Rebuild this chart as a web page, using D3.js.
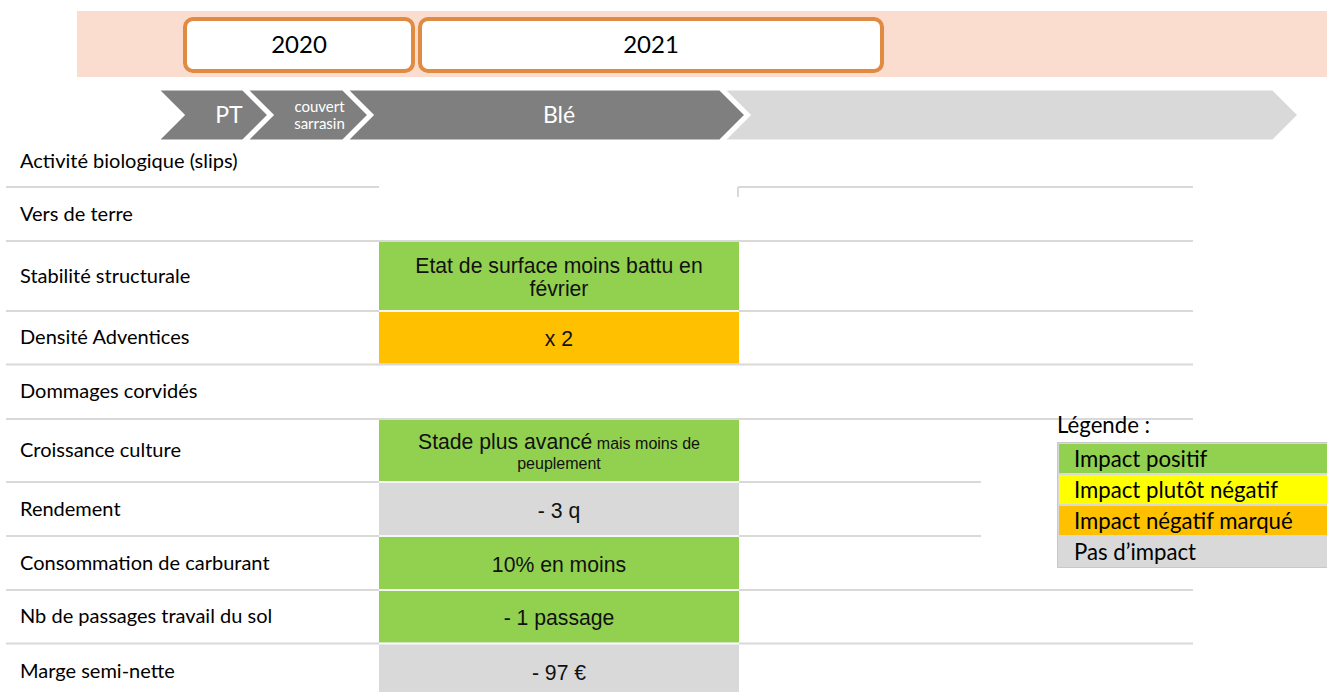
<!DOCTYPE html>
<html lang="fr">
<head>
<meta charset="utf-8">
<script src="https://cdn.jsdelivr.net/npm/d3@7"></script>
<style>
	html, body { margin: 0; padding: 0; background: #fff; }
	svg { display: block; }
</style>
</head>
<body>
<div class="svg-container"></div>
<script>
// --- data ---
const years = ['2020', '2021'];
const stages = ['PT', 'couvert sarrasin', 'Blé', ''];
const indicators = [
	'Activité biologique (slips)',
	'Vers de terre',
	'Stabilité structurale',
	'Densité Adventices',
	'Dommages corvidés',
	'Croissance culture',
	'Rendement',
	'Consommation de carburant',
	'Nb de passages travail du sol',
	'Marge semi-nette',
];
// impact class for each indicator (null = no observation)
const impacts = [null, null, 'positif', 'marque', null, 'positif', 'aucun', 'positif', 'positif', 'aucun'];
// cell texts: lines, each line made of [text, small?] pieces
const cellTexts = [
	null,
	null,
	[[['Etat de surface moins battu en', false]], [['février', false]]],
	[[['x 2', false]]],
	null,
	[[['Stade plus avancé', false], [' mais moins de', true]], [['peuplement', true]]],
	[[['- 3 q', false]]],
	[[['10% en moins', false]]],
	[[['- 1 passage', false]]],
	[[['- 97 €', false]]],
];
const legendKeys = ['positif', 'plutot', 'marque', 'aucun'];
const legendLabels = ['Impact positif', 'Impact plutôt négatif', 'Impact négatif marqué', 'Pas d’impact'];
const legendColors = ['#92d050', '#ffff00', '#ffc000', '#d9d9d9'];

// --- layout ---
const w = 1327;
const h = 692;
const calibri = "Lato, Carlito, Calibri, sans-serif";
const arial = "Arial, 'Liberation Sans', sans-serif";
const lineColor = '#d9d9d9';

const rowHeights = [52, 54, 70, 53.5, 54.5, 63, 54, 54, 53.5, 56];
const tableTop = 135;
const labelX = 20;
const lineX0 = 6;
const lineX1 = 1193;
const cellX0 = 379;
const cellX1 = 739;

const svg = d3
	.select('.svg-container')
	.append('svg')
	.attr('width', w)
	.attr('height', h)
	.attr('viewBox', `0 0 ${w} ${h}`);

const color = d3.scaleOrdinal().domain(legendKeys).range(legendColors);

// row tops from cumulative heights
const rowTops = [tableTop, ...d3.cumsum(rowHeights).map(v => tableTop + v)];
const yTop = d3.scaleOrdinal().domain(indicators).range(rowTops.slice(0, -1));
const rowH = d3.scaleOrdinal().domain(indicators).range(rowHeights);

// --- header : years ---
svg
	.append('rect')
	.attr('x', 77)
	.attr('y', 11)
	.attr('width', w - 77)
	.attr('height', 66)
	.attr('fill', '#fbddd0');

const yearX = d3.scaleOrdinal().domain(years).range([[183, 415], [418, 884]]);

const yearBox = svg
	.selectAll('g.year')
	.data(years)
	.enter()
	.append('g')
	.attr('class', 'year');

yearBox
	.append('rect')
	.attr('x', d => yearX(d)[0] + 2)
	.attr('y', 19)
	.attr('width', d => yearX(d)[1] - yearX(d)[0] - 4)
	.attr('height', 52)
	.attr('rx', 8)
	.attr('fill', '#fff')
	.attr('stroke', '#e08a42')
	.attr('stroke-width', 4);

yearBox
	.append('text')
	.attr('x', d => (yearX(d)[0] + yearX(d)[1]) / 2)
	.attr('y', 53)
	.attr('text-anchor', 'middle')
	.style('font-family', calibri)
	.style('font-size', '24px')
	.attr('fill', '#000')
	.text(d => d);

// --- crop chevrons ---
const stageX = d3.scaleOrdinal().domain(stages).range([[157, 243], [246, 343], [346, 720], [723, 1273]]);
const chevTop = 89;
const chevBot = 141;
const chevMid = (chevTop + chevBot) / 2;
const depth = 26;

const chevron = svg
	.selectAll('g.stage')
	.data(stages)
	.enter()
	.append('g')
	.attr('class', 'stage');

chevron
	.append('path')
	.attr('d', d => {
		const [L, R] = stageX(d);
		return `M${L},${chevTop}L${R},${chevTop}L${R + depth},${chevMid}L${R},${chevBot}L${L},${chevBot}L${L + depth},${chevMid}Z`;
	})
	.attr('fill', (d, i) => (i < 3 ? '#7f7f7f' : '#d9d9d9'))
	.attr('stroke', '#fff')
	.attr('stroke-width', 3);

chevron.each(function (d, i) {
	const [L, R] = stageX(d);
	const cx = (L + R) / 2 + depth + (i === 0 ? 3 : 0);
	const words = d.split(' ');
	const g = d3.select(this);
	if (words.length > 1) {
		g.selectAll('text')
			.data(words)
			.enter()
			.append('text')
			.attr('x', cx - 1)
			.attr('y', (t, i) => 112 + i * 17)
			.attr('text-anchor', 'middle')
			.style('font-family', calibri)
			.style('font-size', '15px')
			.attr('fill', '#fff')
			.text(t => t);
	} else {
		g.append('text')
			.attr('x', cx)
			.attr('y', 123)
			.attr('text-anchor', 'middle')
			.style('font-family', calibri)
			.style('font-size', '23px')
			.attr('fill', '#fff')
			.text(d);
	}
});

// --- table lines ---
const boundaries = indicators.slice(1).map((d, i) => ({
	y: yTop(d),
	above: impacts[i],
	below: impacts[i + 1],
}));

boundaries.forEach((b, i) => {
	let segs = [[lineX0, lineX1]];
	if (i === 0) segs = [[lineX0, cellX0], [cellX1 - 1, lineX1]];
	segs.forEach(([a, c]) => {
		svg
			.append('line')
			.attr('x1', a)
			.attr('x2', c)
			.attr('y1', b.y)
			.attr('y2', b.y)
			.attr('stroke', lineColor)
			.attr('stroke-width', 2);
	});
});

// small tick under first line
svg
	.append('line')
	.attr('x1', cellX1 - 1)
	.attr('x2', cellX1 - 1)
	.attr('y1', yTop(indicators[1]))
	.attr('y2', yTop(indicators[1]) + 10)
	.attr('stroke', lineColor)
	.attr('stroke-width', 2);

// row labels
svg
	.selectAll('text.label')
	.data(indicators)
	.enter()
	.append('text')
	.attr('class', 'label')
	.attr('x', labelX)
	.attr('y', d => yTop(d) + rowH(d) / 2 + 6.7)
	.style('font-family', calibri)
	.style('font-size', '20px')
	.attr('fill', '#000')
	.text(d => d);

// --- impact cells ---
const cellData = indicators
	.map((d, i) => ({name: d, impact: impacts[i], lines: cellTexts[i]}))
	.filter(d => d.impact);

svg
	.selectAll('rect.cell')
	.data(cellData)
	.enter()
	.append('rect')
	.attr('class', 'cell')
	.attr('x', cellX0)
	.attr('y', d => yTop(d.name) + 1)
	.attr('width', cellX1 - cellX0)
	.attr('height', d => rowH(d.name) - 2)
	.attr('fill', d => color(d.impact));

// white seams between two adjacent cells
boundaries
	.filter(b => b.above && b.below)
	.forEach(b => {
		svg
			.append('line')
			.attr('x1', cellX0)
			.attr('x2', cellX1)
			.attr('y1', b.y)
			.attr('y2', b.y)
			.attr('stroke', '#fff')
			.attr('stroke-width', 1.5);
	});

const bigSize = 21.2;
const smallSize = 16;

cellData.forEach(d => {
	const sizes = d.lines.map(line => d3.max(line, p => (p[1] ? smallSize : bigSize)));
	const lh = sizes.length > 1 ? 0.55 * d3.sum(sizes) : 0;
	const cy = yTop(d.name) + rowH(d.name) / 2;
	d.lines.forEach((line, li) => {
		const text = svg
			.append('text')
			.attr('x', (cellX0 + cellX1) / 2)
			.attr('y', cy + 8.5 - lh / 2 + li * lh)
			.attr('text-anchor', 'middle')
			.style('font-family', arial)
			.attr('fill', '#111');
		line.forEach(p => {
			text
				.append('tspan')
				.style('font-size', `${p[1] ? smallSize : bigSize}px`)
				.text(p[0]);
		});
	});
});

// --- legend ---
svg
	.append('rect')
	.attr('x', 981)
	.attr('y', 427)
	.attr('width', w - 981)
	.attr('height', 152)
	.attr('fill', '#fff');

svg
	.append('text')
	.attr('x', 1057)
	.attr('y', 433)
	.style('font-family', calibri)
	.style('font-size', '22.2px')
	.attr('fill', '#000')
	.text('Légende :');

const legendY = d3.scaleBand().domain(legendKeys).range([443, 567]);

const legend = svg.append('g').attr('id', 'legend');

legend
	.append('rect')
	.attr('x', 1057.5)
	.attr('y', 442.5)
	.attr('width', w)
	.attr('height', 125)
	.attr('fill', '#d9d9d9')
	.attr('stroke', '#c8c8c8');

legend
	.selectAll('rect.key')
	.data(legendKeys)
	.enter()
	.append('rect')
	.attr('class', 'key')
	.attr('x', 1059)
	.attr('y', d => legendY(d) + 1)
	.attr('width', w)
	.attr('height', legendY.bandwidth() - 2)
	.attr('fill', d => color(d));

legend
	.selectAll('text')
	.data(legendKeys)
	.enter()
	.append('text')
	.attr('x', 1074)
	.attr('y', d => legendY(d) + 24)
	.style('font-family', calibri)
	.style('font-size', '22.2px')
	.attr('fill', '#000')
	.text((d, i) => legendLabels[i]);
</script>
</body>
</html>
